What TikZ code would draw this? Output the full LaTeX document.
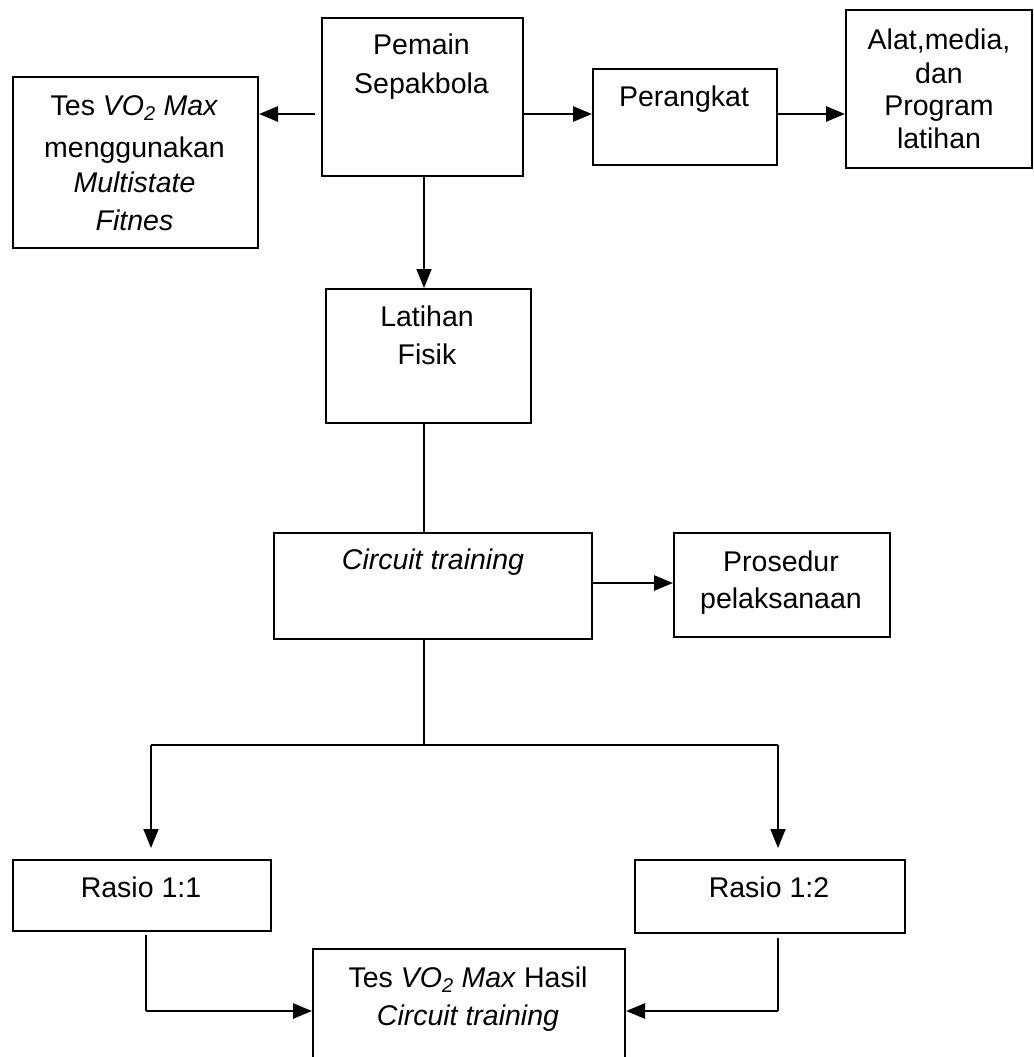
\documentclass[tikz,border=0pt]{standalone}
\usepackage{fontspec}
\setmainfont{Liberation Sans}
\usetikzlibrary{arrows.meta,calc}
\begin{document}
\begin{tikzpicture}[x=1pt,y=-1pt,
  box/.style={draw,line width=2pt,inner sep=0pt,anchor=north west},
  txt/.style={anchor=base,inner sep=0pt,font=\fontsize{28.5}{33}\selectfont},
  arr/.style={line width=2.6pt,-{Triangle[length=19pt,width=15pt]}},
  varr/.style={line width=1.8pt,-{Triangle[length=19pt,width=15pt]}},
  thinline/.style={line width=1.6pt}]
\useasboundingbox (0,0) rectangle (1033,1057);
\clip (0,0) rectangle (1033,1057);
\fill[white] (0,0) rectangle (1033,1057);
% boxes
\node[box,minimum width=201pt,minimum height=158pt] (pemain) at (321,17) {};
\node[box,minimum width=245pt,minimum height=171pt] (tes) at (12,76) {};
\node[box,minimum width=184pt,minimum height=96pt] (perangkat) at (592,68) {};
\node[box,minimum width=186pt,minimum height=158pt] (alat) at (845,9) {};
\node[box,minimum width=205pt,minimum height=134pt] (latihan) at (325,288) {};
\node[box,minimum width=318pt,minimum height=106pt] (circuit) at (273,532) {};
\node[box,minimum width=216pt,minimum height=104pt] (prosedur) at (673,532) {};
\node[box,minimum width=258pt,minimum height=71pt] (rasio1) at (12,859) {};
\node[box,minimum width=270pt,minimum height=73pt] (rasio2) at (634,859) {};
\node[box,minimum width=312pt,minimum height=124pt] (hasil) at (312,948) {};
% texts
\node[txt] (tp1) at (421.5,55) {Pemain};
\node[txt] (tp2) at (421.5,93) {Sepakbola};
\node[txt] (tt1) at (134.5,115) {Tes \textit{VO\textsubscript{2} Max}};
\node[txt] (tt2) at (134.5,157) {menggunakan};
\node[txt] (tt3) at (134.5,192) {\textit{Multistate}};
\node[txt] (tt4) at (134.5,230) {\textit{Fitnes}};
\node[txt] (tpr) at (684,106) {Perangkat};
\node[txt] (ta1) at (939,49) {Alat,media,};
\node[txt] (ta2) at (939,83) {dan};
\node[txt] (ta3) at (939,115) {Program};
\node[txt] (ta4) at (939,148) {latihan};
\node[txt] (tl1) at (427,326) {Latihan};
\node[txt] (tl2) at (427,364) {Fisik};
\node[txt] (tc) at (433,569) {\textit{Circuit training}};
\node[txt] (ts1) at (781,571) {Prosedur};
\node[txt] (ts2) at (781,608) {pelaksanaan};
\node[txt] (tr1) at (141,897) {Rasio 1:1};
\node[txt] (tr2) at (769,897) {Rasio 1:2};
\node[txt] (th1) at (468,987) {Tes \textit{VO\textsubscript{2} Max} Hasil};
\node[txt] (th2) at (468,1025) {\textit{Circuit training}};
% connectors
\coordinate (p1) at ([yshift=-17pt]pemain.west);
\draw[arr] ([xshift=-6pt]p1) -- (p1 -| tes.east);
\coordinate (p2) at ([yshift=-17pt]pemain.east);
\draw[arr] (p2) -- (p2 -| perangkat.west);
\coordinate (p3) at (p2 -| perangkat.east);
\draw[arr] (p3) -- (p3 -| alat.west);
\coordinate (v1) at ([xshift=1.5pt]pemain.south);
\draw[varr] (v1) -- (v1 |- latihan.north);
\draw[thinline] (v1 |- latihan.south) -- (v1 |- circuit.north);
\coordinate (cs) at (v1 |- circuit.south);
\coordinate (br) at ($(cs)+(0,105)$);
\draw[thinline] (cs) -- (br);
\coordinate (r1n) at ([xshift=9pt]rasio1.north);
\coordinate (r2n) at ([xshift=8pt]rasio2.north);
\coordinate (bl) at (r1n |- br);
\coordinate (bR) at (r2n |- br);
\draw[thinline] (bl) -- (bR);
\draw[varr] (bl) -- ([yshift=11pt]r1n);
\draw[varr] (bR) -- ([yshift=11pt]r2n);
\coordinate (c2) at ([yshift=3pt]circuit.east);
\draw[arr] (c2) -- (c2 -| prosedur.west);
\coordinate (r1s) at ([xshift=4pt,yshift=-3pt]rasio1.south);
\draw[thinline] (r1s) -- (r1s |- hasil.west);
\draw[arr] (r1s |- hasil.west) -- (hasil.west);
\coordinate (r2s) at ([xshift=8pt,yshift=-4pt]rasio2.south);
\draw[thinline] (r2s) -- (r2s |- hasil.east);
\draw[arr] (r2s |- hasil.east) -- (hasil.east);
\end{tikzpicture}
\end{document}
